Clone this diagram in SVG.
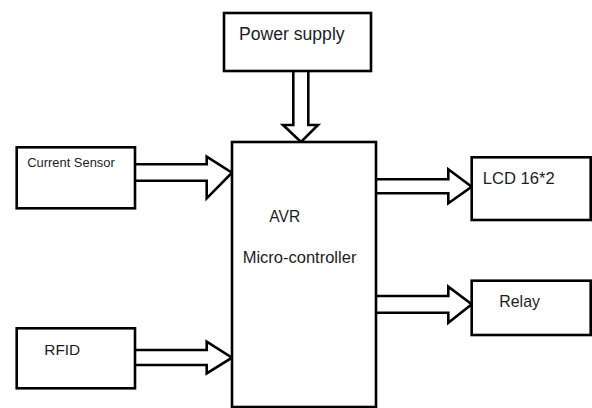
<svg xmlns="http://www.w3.org/2000/svg" width="592" height="408" viewBox="0 0 592 408">
<style>
.box{fill:#fff;stroke:#000;stroke-width:2.6}
.arr{fill:#fff;stroke:#000;stroke-width:2.6;stroke-linejoin:miter}
.t{font-family:"Liberation Sans",Arial,sans-serif;fill:#1c1c24}
</style>
<rect width="592" height="408" fill="#fff"/>
<g id="connectors">
<path class="arr" d="M293.3 71 V125 H283 L301 142 L318 125 H308.3 V71"/>
<path class="arr" d="M135 164.3 H206.7 V156.7 L232 172.7 L206.7 198.3 V180.7 H135"/>
<path class="arr" d="M135 350 H206.7 V341.7 L232 357.7 L206.7 373.3 V365 H135"/>
<path class="arr" d="M376 179.3 H448.3 V169.3 L471.7 186.7 L448.3 203.3 V193.3 H376"/>
<path class="arr" d="M376 296 H448.3 V286.7 L471.7 304.3 L448.3 322.7 V312.7 H376"/>
</g>
<g id="power">
<rect class="box" x="224" y="13" width="147" height="58"/>
<text class="t" x="239" y="39.5" font-size="17.6">Power supply</text>
</g>
<g id="current-sensor">
<rect class="box" x="16.7" y="147.3" width="118.3" height="61"/>
<text class="t" x="27.3" y="167.3" font-size="12.9">Current Sensor</text>
</g>
<g id="rfid">
<rect class="box" x="16.7" y="328.3" width="118.3" height="60"/>
<text class="t" x="44.3" y="355" font-size="15.4">RFID</text>
</g>
<g id="mcu">
<rect class="box" x="232" y="142" width="144" height="265"/>
<text class="t" x="269.3" y="222.3" font-size="15.6">AVR</text>
<text class="t" x="242.7" y="263.3" font-size="16.5">Micro-controller</text>
</g>
<g id="lcd">
<rect class="box" x="471.7" y="157.3" width="119" height="62.7"/>
<text class="t" x="482.7" y="184" font-size="16.6">LCD 16*2</text>
</g>
<g id="relay">
<rect class="box" x="471.7" y="280.7" width="119" height="54.3"/>
<text class="t" x="499.3" y="306.7" font-size="15.9">Relay</text>
</g>
</svg>
